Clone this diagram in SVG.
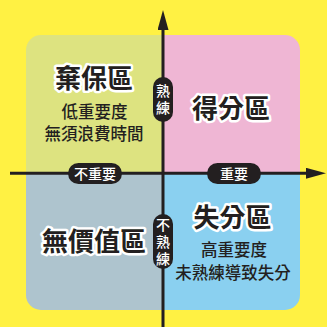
<svg xmlns="http://www.w3.org/2000/svg" width="327" height="327" viewBox="0 0 327 327">
<style>
.title{font-family:"Noto Sans CJK TC","Noto Sans CJK SC",sans-serif;font-weight:700;font-size:26px;fill:#231f20;stroke:#ffffff;stroke-width:5px;stroke-linejoin:round;paint-order:stroke;text-anchor:middle}
.sub{font-family:"Noto Sans CJK TC","Noto Sans CJK SC",sans-serif;font-weight:500;font-size:16.5px;fill:#231f20;text-anchor:middle}
.pill{fill:#231f20}
.pt{font-family:"Noto Sans CJK TC","Noto Sans CJK SC",sans-serif;font-weight:500;font-size:14px;fill:#ffffff;text-anchor:middle}
.vt{writing-mode:vertical-rl;text-orientation:upright;letter-spacing:3px}
.axis{stroke:#231f20;stroke-width:3;fill:none}
</style>
<defs>
<marker id="ah" viewBox="0 0 20 11" refX="0" refY="5.5" markerWidth="20" markerHeight="11" markerUnits="userSpaceOnUse" orient="auto">
<path d="M0,0 L20,5.5 L0,11 Z" fill="#231f20"/>
</marker>
</defs>
<rect width="327" height="327" fill="#fff143"/>
<g id="q-tl">
<path d="M26,50 A15,15 0 0 1 41,35 L163,35 L163,173 L26,173 Z" fill="#dde380"/>
<text class="title" x="94" y="88">棄保區</text>
<text class="sub" x="94.5" y="118">低重要度</text>
<text class="sub" x="94" y="140">無須浪費時間</text>
</g>
<g id="q-tr">
<path d="M163,35 L285,35 A15,15 0 0 1 300,50 L300,173 L163,173 Z" fill="#efb6d4"/>
<text class="title" x="231" y="118">得分區</text>
</g>
<g id="q-bl">
<path d="M26,173 L163,173 L163,310 L41,310 A15,15 0 0 1 26,295 Z" fill="#aec4ce"/>
<text class="title" x="94" y="251">無價值區</text>
</g>
<g id="q-br">
<path d="M163,173 L300,173 L300,295 A15,15 0 0 1 285,310 L163,310 Z" fill="#8ad0f0"/>
<text class="title" x="232.5" y="227">失分區</text>
<text class="sub" x="234" y="256">高重要度</text>
<text class="sub" x="233" y="279">未熟練導致失分</text>
</g>
<g id="connectors">
<line class="axis" x1="163" y1="327" x2="163" y2="30" marker-end="url(#ah)"/>
<line class="axis" x1="10" y1="173.3" x2="306" y2="173.3" marker-end="url(#ah)"/>
</g>
<g id="label-skilled">
<rect class="pill" x="153" y="77" width="20" height="45" rx="10"/>
<text class="pt vt" x="163" y="101">熟練</text>
</g>
<g id="label-unskilled">
<rect class="pill" x="153" y="214" width="20" height="55" rx="10"/>
<text class="pt vt" x="163" y="243">不熟練</text>
</g>
<g id="label-unimportant">
<rect class="pill" x="68" y="163" width="54" height="21" rx="10.5"/>
<text class="pt" x="95" y="178.5">不重要</text>
</g>
<g id="label-important">
<rect class="pill" x="207" y="163" width="54" height="21" rx="10.5"/>
<text class="pt" x="234" y="178.5">重要</text>
</g>
</svg>
